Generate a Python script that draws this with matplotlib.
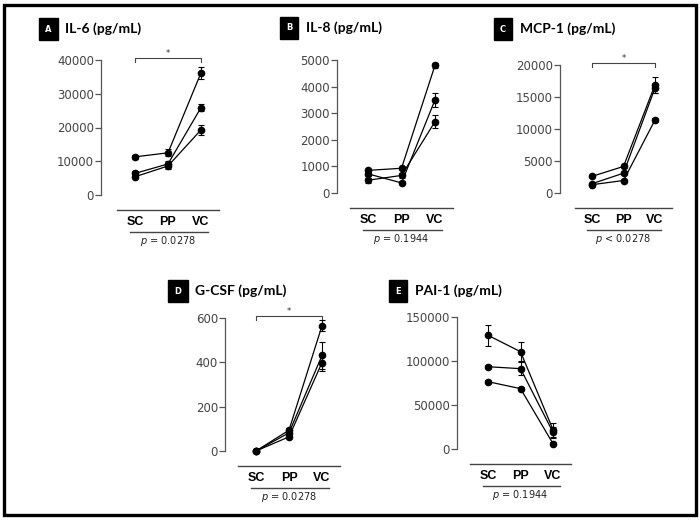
import matplotlib.pyplot as plt
import matplotlib.patches as patches

# Data
groups = ['SC', 'PP', 'VC']

il6_vals = [[11300, 12500, 36200], [6400, 9200, 25900], [5400, 8600, 19300]]
il6_err = [[700, 1000, 1700], [600, 900, 1100], [500, 800, 1500]]

il8_vals = [[850, 930, 4800], [720, 380, 3500], [480, 660, 2680]]
il8_err = [[60, 50, 100], [80, 60, 250], [100, 90, 250]]

mcp1_vals = [[2600, 4150, 16900], [1450, 3100, 16400], [1300, 1950, 11400]]
mcp1_err = [[150, 200, 1300], [150, 300, 700], [150, 200, 250]]

gcsf_vals = [[0, 94, 565], [0, 82, 431], [0, 64, 399]]
gcsf_err = [[0, 8, 25], [0, 8, 60], [0, 6, 40]]

pai1_vals = [[129200, 110600, 22000], [93500, 91300, 19000], [76500, 68600, 6100]]
pai1_err = [[12000, 11000, 8000], [2000, 7000, 6000], [1500, 1500, 1500]]

panels = [
    # letter, title, values, errors, ymax, ystep, p text, significant
    ('A', 'IL-6 (pg/mL)', il6_vals, il6_err, 40000, 10000, '= 0.0278', True),
    ('B', 'IL-8 (pg/mL)', il8_vals, il8_err, 5000, 1000, '= 0.1944', False),
    ('C', 'MCP-1 (pg/mL)', mcp1_vals, mcp1_err, 20000, 5000, '< 0.0278', True),
    ('D', 'G-CSF (pg/mL)', gcsf_vals, gcsf_err, 600, 200, '= 0.0278', True),
    ('E', 'PAI-1 (pg/mL)', pai1_vals, pai1_err, 150000, 50000, '= 0.1944', False),
]

# layout in pixels: spine x, first category x, spacing, y of zero, y of top, title box x, title y
layout = [
    (101, 135, 33.0, 195, 60, 38, 29),
    (337, 368, 33.5, 193, 60, 279, 28),
    (560, 592, 31.5, 193, 65, 493, 29),
    (225, 256, 33.0, 451, 318, 168, 291),
    (457, 488, 32.5, 449, 317, 388, 291),
]

W, H = 700, 520
fig = plt.figure(figsize=(7, 5.2), dpi=100)

# outer frame
fig.patches.append(patches.Rectangle((4 / W, 5 / H), 692 / W, 510 / H, transform=fig.transFigure,
                                     fill=False, edgecolor='black', linewidth=2.4))

for (letter, title, vals, errs, ymax, ystep, ptxt, sig), (sx, cx, sp, y0, yt, bx, ty) in zip(panels, layout):
    xl = -(cx - sx) / sp
    xr = 2.6
    ax = fig.add_axes([sx / W, 1 - y0 / H, (xr - xl) * sp / W, (y0 - yt) / H])
    hpx = y0 - yt

    for i, (v, e) in enumerate(zip(vals, errs)):
        ax.errorbar(range(3), v, yerr=e, color='black', lw=0.9, marker='o', ms=4.5,
                    capsize=2, elinewidth=0.8, capthick=0.8, clip_on=False, zorder=3)

    ax.set_xlim(xl, xr)
    ax.set_ylim(0, ymax)
    ax.set_yticks(range(0, ymax + 1, ystep))
    ax.set_xticks([])
    for s in ['top', 'right', 'bottom']:
        ax.spines[s].set_visible(False)
    ax.spines['left'].set_color('#555555')
    ax.spines['left'].set_linewidth(0.9)
    ax.tick_params(axis='y', labelsize=8.5, colors='#555555', labelcolor='#444444', length=4, width=0.9, pad=1)

    # significance bracket
    if sig:
        h = ymax * (1 + 2 / hpx)
        d = ymax * 4 / hpx
        ax.plot([0, 0, 2, 2], [h - d, h, h, h - d], color='#444444', lw=0.8, clip_on=False)
        ax.text(1, h, '*', ha='center', va='bottom', fontsize=6, color='#333333')

    # group lines and labels under the axis
    def yf(off):
        return -off / hpx
    ax.plot([-0.55, 2.55], [yf(15)] * 2, color='#444444', lw=1.0, clip_on=False,
            transform=ax.get_xaxis_transform())
    for j, g in enumerate(groups):
        ax.text(j, yf(27), g, ha='center', va='center', fontsize=9, fontweight='bold',
                transform=ax.get_xaxis_transform(), family=['Liberation Sans Narrow', 'Liberation Sans'])
    ax.plot([-0.15, 2.2], [yf(37)] * 2, color='#444444', lw=1.0, clip_on=False,
            transform=ax.get_xaxis_transform())
    ax.text(1, yf(46), '$p$ ' + ptxt, ha='center', va='center', fontsize=7,
            transform=ax.get_xaxis_transform(), color='#222222')

    # panel title with letter box
    fig.text((bx + 10) / W, 1 - ty / H, letter, ha='center', va='center', fontsize=6,
             fontweight='bold', color='white',
             bbox=dict(boxstyle='square,pad=0.75', facecolor='black', edgecolor='black'))
    fig.text((bx + 27) / W, 1 - ty / H, title, ha='left', va='center', fontsize=10,
             fontweight='bold', family='Lato')

fig.savefig('out.png', dpi=100)
